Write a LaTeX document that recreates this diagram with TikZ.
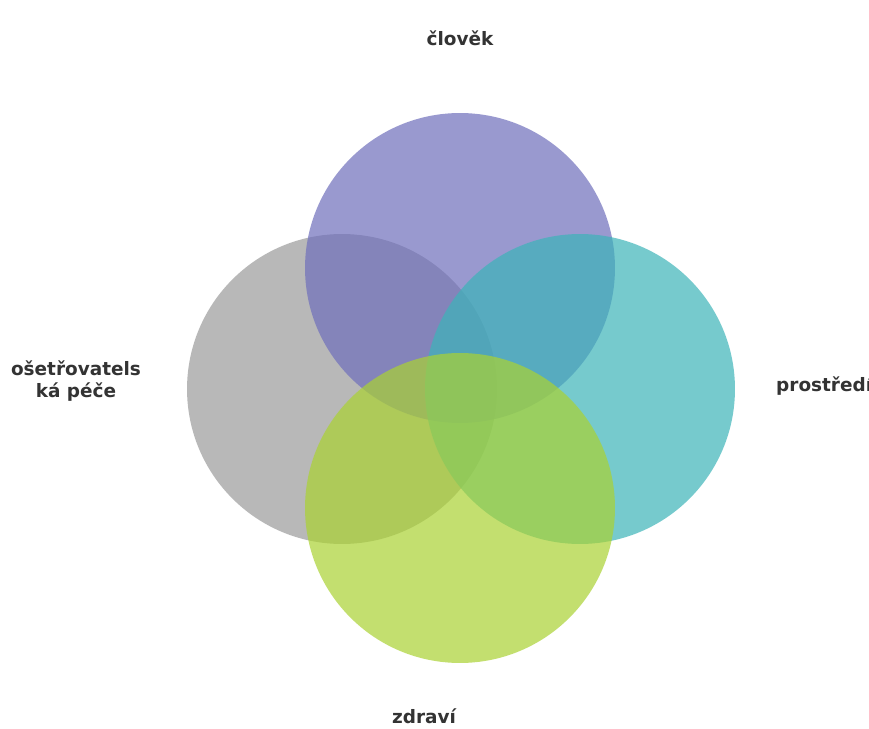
\documentclass[tikz,border=0pt]{standalone}
\usepackage{fontspec}
\setmainfont{DejaVu Sans}
\definecolor{fialova}{RGB}{111,111,188}
\definecolor{seda}{RGB}{154,154,154}
\definecolor{tyrkys}{RGB}{60,180,185}
\definecolor{zluta}{RGB}{170,210,50}
\tikzset{
    kruh/.style={circle, minimum size=6.2cm, inner sep=0pt, fill opacity=0.7},
    popis/.style={font=\fontsize{10.5}{13}\selectfont\bfseries, text=black!80, align=center}
}
\begin{document}
\begin{tikzpicture}[x=0.02cm,y=-0.02cm]
\useasboundingbox (0,0) rectangle (869,729);
\fill[white] (0,0) rectangle (869,729);
% circles
\node[kruh, fill=seda] (pece) at (342,389) {};
\node[kruh, fill=fialova] (clovek) at (460,268) {};
\node[kruh, fill=tyrkys] (prostredi) at (580,389) {};
\node[kruh, fill=zluta] (zdravi) at (460,508) {};
% labels
\node[popis] (lclovek) at (460,38) {člověk};
\node[popis] (lpece) at (76,381) {ošetřovatels\\ká péče};
\node[popis, anchor=west] (lprostredi) at (770,386) {prostředí};
\node[popis] (lzdravi) at (424,716) {zdraví};
\end{tikzpicture}
\end{document}
